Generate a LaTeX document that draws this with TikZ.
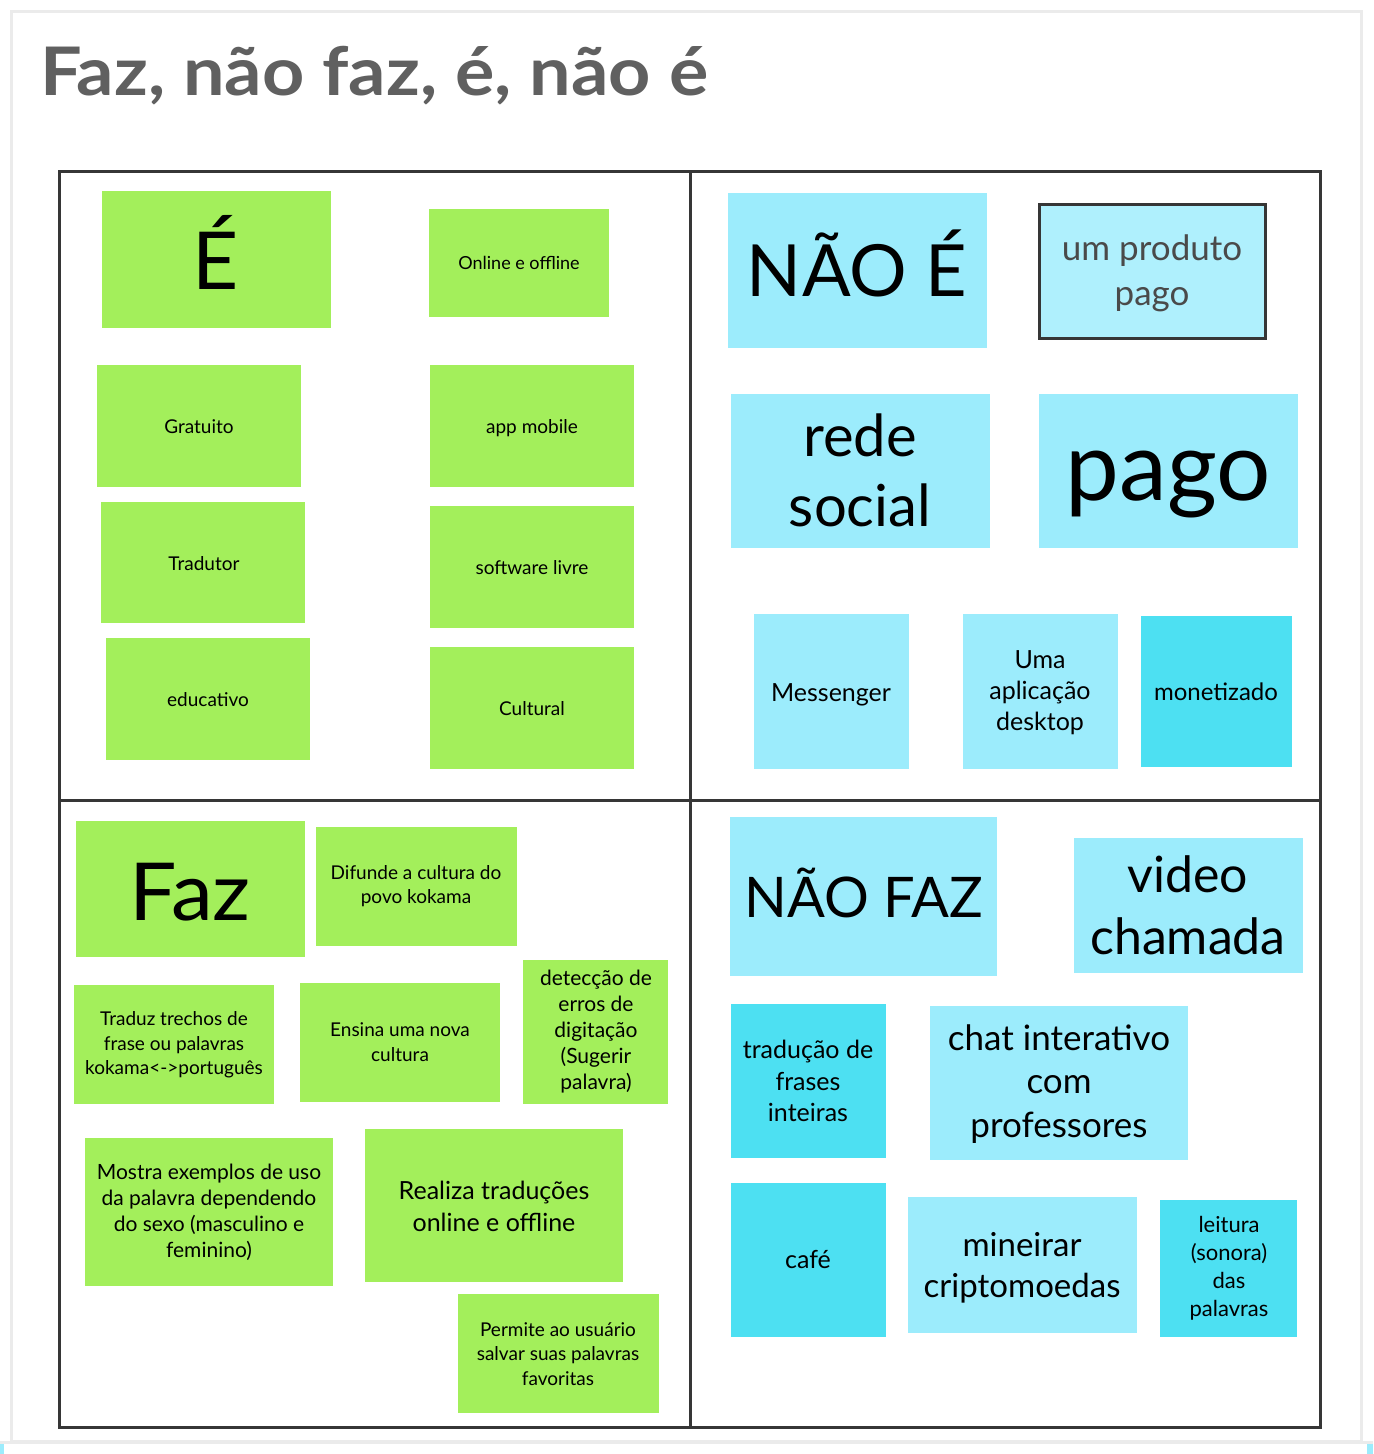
\documentclass[tikz,border=0pt]{standalone}
\usepackage{fontspec}
\setmainfont{Lato}
\usetikzlibrary{fit}
\definecolor{gr}{HTML}{A3EF5B}
\definecolor{lc}{HTML}{9CECFC}
\definecolor{dc}{HTML}{4DE0F2}
\definecolor{pc}{HTML}{AFF0FD}
\definecolor{ln}{HTML}{363636}
\definecolor{tt}{HTML}{606060}
\definecolor{fr}{HTML}{EBEBEB}
\newcommand\fsx[2]{\fontsize{#1}{#2}\selectfont}
\tikzset{
  sticky/.style={inner sep=0pt, outer sep=0pt, draw=none},
  txt/.style={inner sep=0pt, outer sep=0pt, align=center, text=black},
}
\begin{document}
\begin{tikzpicture}[x=0.5pt,y=-0.5pt]
\useasboundingbox (0,0) rectangle (1373,1454);
\fill[white] (0,0) rectangle (1373,1454);
% outer frame
\draw[fr, line width=1.5pt] (11.5,11.5) rectangle (1361.5,1441.5);
\draw[fr, line width=1.5pt] (0,1442) -- (1373,1442);
\fill[lc] (0,1443.5) rectangle (4,1454);
\fill[lc] (1367,1443.5) rectangle (1373,1454);
% title
\node[txt, text=tt, anchor=base west, font=\bfseries\fsx{33.5}{40}] (title) at (40,96) {\scalebox{1.1}[1]{Faz, não faz, é, não é}};

% ---------- É quadrant ----------
\node[sticky, fill=gr, fit={(102,191)(331,328)}] (bE) {};
\node[txt, anchor=base, font=\fsx{40}{48}] (tE) at (216,290) {É};
\node[sticky, fill=gr, fit={(429,209)(609,317)}] (bOn) {};
\node[txt, anchor=base, font=\fsx{9}{12}] (tOn) at (519,270) {Online e offline};
\node[sticky, fill=gr, fit={(97,365)(301,487)}] (bGr) {};
\node[txt, anchor=base, font=\fsx{9.5}{12}] (tGr) at (199,433) {Gratuito};
\node[sticky, fill=gr, fit={(430,365)(634,487)}] (bApp) {};
\node[txt, anchor=base, font=\fsx{9.5}{12}] (tApp) at (532,433) {app mobile};
\node[sticky, fill=gr, fit={(101,502)(305,623)}] (bTr) {};
\node[txt, anchor=base, font=\fsx{9.5}{12}] (tTr) at (204,570) {Tradutor};
\node[sticky, fill=gr, fit={(430,506)(634,628)}] (bSw) {};
\node[txt, anchor=base, font=\fsx{9.5}{12}] (tSw) at (532,574) {software livre};
\node[sticky, fill=gr, fit={(106,638)(310,760)}] (bEd) {};
\node[txt, anchor=base, font=\fsx{9.5}{12}] (tEd) at (208,706) {educativo};
\node[sticky, fill=gr, fit={(430,647)(634,769)}] (bCu) {};
\node[txt, anchor=base, font=\fsx{9.5}{12}] (tCu) at (532,715) {Cultural};

% ---------- NÃO É quadrant ----------
\node[sticky, fill=lc, fit={(728,193)(987,348)}] (bNE) {};
\node[txt, anchor=base, font=\fsx{36}{44}] (tNE) at (857,297) {NÃO É};
\node[sticky, fill=pc, draw=ln, line width=1.5pt, fit={(1039.5,204.5)(1265.5,338.5)}] (bUm) {};
\node[txt, text=ln!90, font=\fsx{17.5}{22.5}] (tUm) at (1152,273) {um produto\\pago};
\node[sticky, fill=lc, fit={(731,394)(990,548)}] (bRs) {};
\node[txt, font=\fsx{29}{35}] (tRs) at (860,470) {rede\\social};
\node[sticky, fill=lc, fit={(1039,394)(1298,548)}] (bPg) {};
\node[txt, anchor=base, font=\fsx{48}{56}] (tPg) at (1168,500) {pago};
\node[sticky, fill=lc, fit={(754,614)(909,769)}] (bMs) {};
\node[txt, anchor=base, font=\fsx{12.5}{15.5}] (tMs) at (831,701) {Messenger};
\node[sticky, fill=lc, fit={(963,614)(1118,769)}] (bDk) {};
\node[txt, font=\fsx{12.5}{15.5}] (tDk) at (1040,693) {Uma\\aplicação\\desktop};
\node[sticky, fill=dc, fit={(1141,616)(1292,767)}] (bMo) {};
\node[txt, anchor=base, font=\fsx{12}{15}] (tMo) at (1216,700) {monetizado};

% ---------- Faz quadrant ----------
\node[sticky, fill=gr, fit={(76,821)(305,957)}] (bFz) {};
\node[txt, anchor=base, font=\fsx{40}{48}] (tFz) at (190,920) {\scalebox{1.05}[1]{Faz}};
\node[sticky, fill=gr, fit={(316,827)(517,946)}] (bDf) {};
\node[txt, font=\fsx{9.5}{12.25}] (tDf) at (416,886) {Difunde a cultura do\\povo kokama};
\node[sticky, fill=gr, fit={(74,985)(274,1104)}] (bTz) {};
\node[txt, font=\fsx{9.5}{12.25}] (tTz) at (174,1045) {Traduz trechos de\\frase ou palavras\\kokama<->português};
\node[sticky, fill=gr, fit={(300,983)(500,1102)}] (bEn) {};
\node[txt, font=\fsx{9.5}{12.25}] (tEn) at (400,1042) {Ensina uma nova\\cultura};
\node[sticky, fill=gr, fit={(523,960)(668,1104)}] (bDt) {};
\node[txt, font=\fsx{10.5}{13}] (tDt) at (596,1032) {detecção de\\erros de\\digitação\\(Sugerir\\palavra)};
\node[sticky, fill=gr, fit={(85,1138)(333,1286)}] (bMe) {};
\node[txt, font=\fsx{10.5}{13}] (tMe) at (209,1212) {Mostra exemplos de uso\\da palavra dependendo\\do sexo (masculino e\\feminino)};
\node[sticky, fill=gr, fit={(365,1129)(623,1282)}] (bRe) {};
\node[txt, font=\fsx{12.5}{16}] (tRe) at (494,1206) {Realiza traduções\\online e offline};
\node[sticky, fill=gr, fit={(458,1294)(659,1413)}] (bPe) {};
\node[txt, font=\fsx{9.5}{12.25}] (tPe) at (558,1354) {Permite ao usuário\\salvar suas palavras\\favoritas};

% ---------- NÃO FAZ quadrant ----------
\node[sticky, fill=lc, fit={(730,817)(997,976)}] (bNF) {};
\node[txt, anchor=base, font=\fsx{28}{34}] (tNF) at (864,917) {NÃO FAZ};
\node[sticky, fill=lc, fit={(1074,838)(1303,973)}] (bVc) {};
\node[txt, font=\fsx{25}{31}] (tVc) at (1188,905) {video\\chamada};
\node[sticky, fill=dc, fit={(731,1004)(886,1158)}] (bTf) {};
\node[txt, font=\fsx{12.5}{15.75}] (tTf) at (808,1081) {tradução de\\frases\\inteiras};
\node[sticky, fill=lc, fit={(930,1006)(1188,1160)}] (bCh) {};
\node[txt, font=\fsx{17.5}{21.75}] (tCh) at (1059,1084) {chat interativo\\com\\professores};
\node[sticky, fill=dc, fit={(731,1183)(886,1337)}] (bCf) {};
\node[txt, anchor=base, font=\fsx{12.5}{15.5}] (tCf) at (808,1268) {café};
\node[sticky, fill=lc, fit={(908,1197)(1137,1333)}] (bMi) {};
\node[txt, font=\fsx{16.5}{20.5}] (tMi) at (1022,1268) {mineirar\\criptomoedas};
\node[sticky, fill=dc, fit={(1160,1200)(1297,1337)}] (bLe) {};
\node[txt, font=\fsx{11}{14}] (tLe) at (1229,1268) {leitura\\(sonora)\\das\\palavras};

% ---------- grid ----------
\draw[ln, line width=1.5pt] (59.5,172) rectangle (1320,1427.5);
\draw[ln, line width=1.5pt] (690,172) -- (690,1427.5);
\draw[ln, line width=1.5pt] (59.5,800) -- (1320,800);
\end{tikzpicture}
\end{document}
